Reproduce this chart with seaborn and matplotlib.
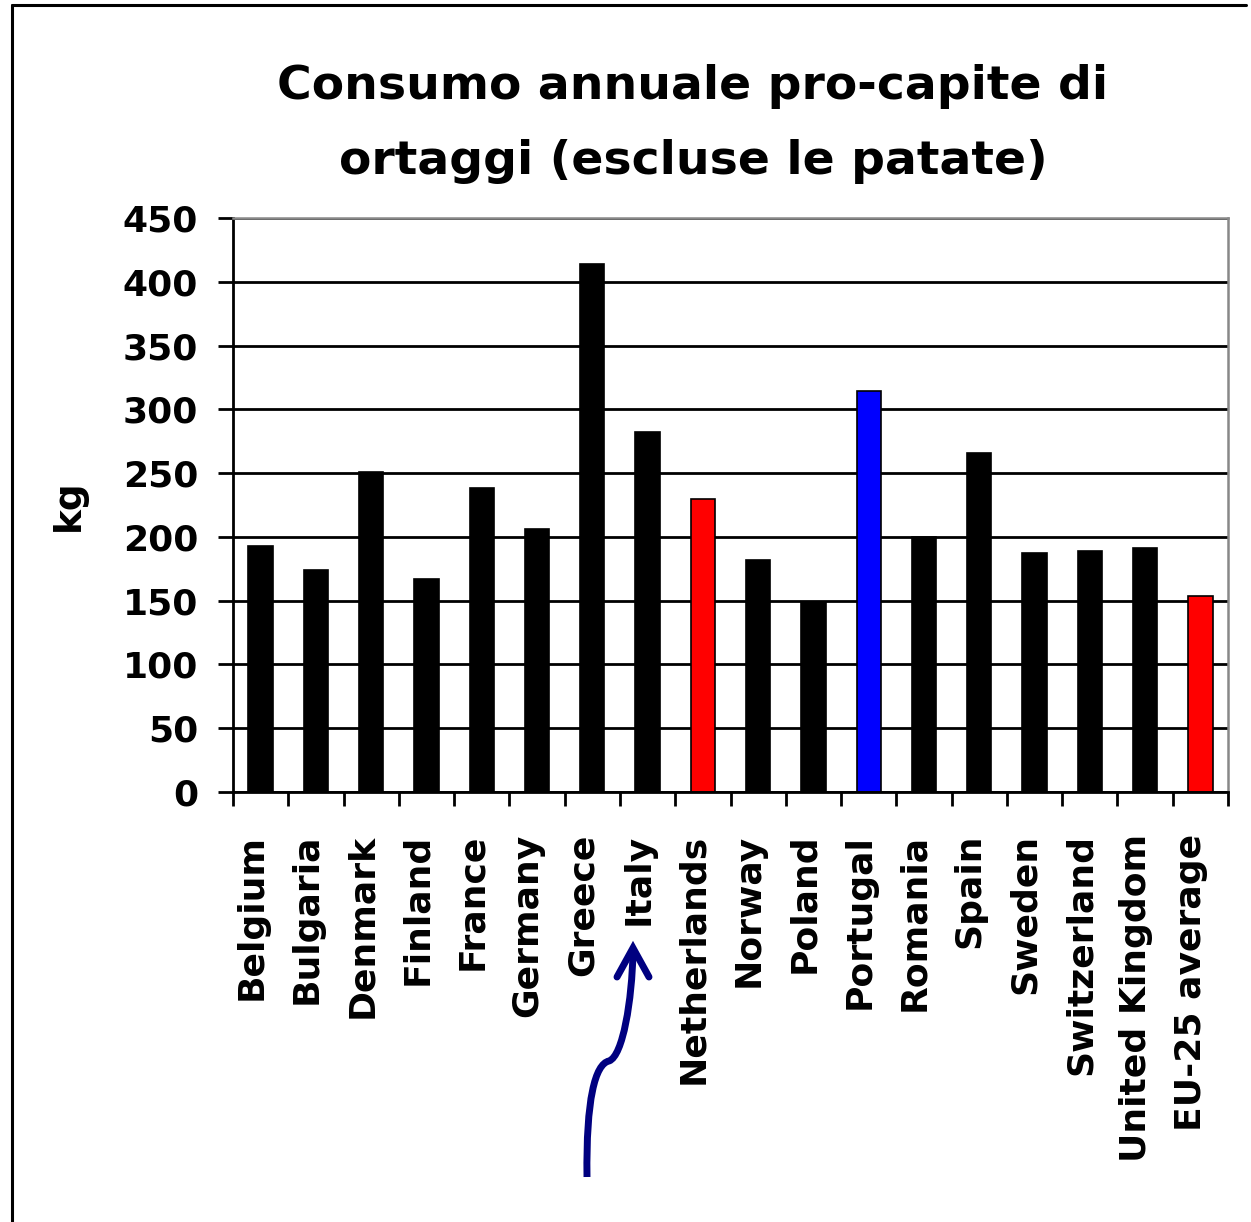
import numpy as np
import pandas as pd
import matplotlib
matplotlib.use("Agg")
import matplotlib.pyplot as plt
import seaborn as sns
from matplotlib.lines import Line2D
from matplotlib.path import Path
from matplotlib.patches import PathPatch

# dati (kg pro-capite)
paesi = ["Belgium", "Bulgaria", "Denmark", "Finland", "France", "Germany",
         "Greece", "Italy", "Netherlands", "Norway", "Poland", "Portugal",
         "Romania", "Spain", "Sweden", "Switzerland", "United Kingdom",
         "EU-25 average"]
consumo = [193, 174, 251, 167, 238, 206, 414, 282, 230, 182, 149, 314,
           200, 266, 187, 189, 191, 154]
colori = ["black"] * 8 + ["#ff0000"] + ["black"] * 2 + ["#0000ff"] + ["black"] * 5 + ["#ff0000"]
y_ticks = [0, 50, 100, 150, 200, 250, 300, 350, 400, 450]

W, H = 1251, 1222
sns.set_style("white")
plt.rcParams["font.family"] = ["DejaVu Sans"]
plt.rcParams["font.weight"] = "bold"
for k in ["text.color", "axes.labelcolor", "xtick.color", "ytick.color"]:
    plt.rcParams[k] = "black"

df = pd.DataFrame({"paese": paesi, "kg": consumo})

fig = plt.figure(figsize=(W / 100, H / 100), dpi=100)
ax = fig.add_axes([233 / W, 1 - 792 / H, (1228 - 233) / W, (792 - 218) / H])

sns.barplot(data=df, x="paese", y="kg", hue="paese", palette=colori,
            legend=False, width=0.44, edgecolor="black", linewidth=1.2,
            saturation=1, ax=ax)

ax.set_ylim(0, 450)
ax.set_xlim(-0.5, len(paesi) - 0.5)
ax.set_yticks(y_ticks)
ax.set_yticklabels([str(v) for v in y_ticks], fontsize=26, fontweight="bold")
# tacche ai confini delle categorie, etichette leggermente a sinistra come nell'originale
ax.set_xticks(np.arange(len(paesi) + 1) - 0.5, minor=False)
ax.set_xticklabels([])
ax.set_xticks(np.arange(len(paesi)) - 0.17, minor=True)
ax.set_xticklabels(paesi, minor=True, rotation=90, fontsize=26,
                   fontweight="bold", va="top")
ax.tick_params(axis="x", which="major", direction="out", length=10, width=2,
               color="black", bottom=True)
ax.tick_params(axis="x", which="minor", length=0, pad=30)
ax.tick_params(axis="y", direction="out", length=11, width=2, color="black",
               left=True, pad=14)

ax.yaxis.grid(True, color="black", linewidth=2)
ax.set_axisbelow(True)
for s in ["left", "bottom"]:
    ax.spines[s].set_color("black")
    ax.spines[s].set_linewidth(2)
for s in ["top", "right"]:
    ax.spines[s].set_visible(True)
    ax.spines[s].set_color("#888888")
    ax.spines[s].set_linewidth(1.8)

ax.set_xlabel("")
ax.set_ylabel("kg", fontsize=27, fontweight="bold")
ax.yaxis.set_label_coords(-0.147, 0.5)

fig.text(693 / W, 1 - 64 / H, "Consumo annuale pro-capite di\nortaggi (escluse le patate)",
         ha="center", va="top", fontsize=34, fontweight="bold", linespacing=1.85)


def px(x, y):
    return (x / W, 1 - y / H)


# cornice esterna
fig.add_artist(Line2D([12 / W, 12 / W], [0, 1 - 5 / H], color="black", lw=2.2,
                      transform=fig.transFigure))
fig.add_artist(Line2D([12 / W, 1246 / W], [1 - 5 / H, 1 - 5 / H], color="black",
                      lw=2.2, transform=fig.transFigure))

# freccia verso Italy
verts = [px(587, 1177), px(586, 1100), px(595, 1064), px(609, 1061),
         px(623, 1056), px(632, 1000), px(633, 952)]
codes = [Path.MOVETO, Path.CURVE4, Path.CURVE4, Path.CURVE4,
         Path.CURVE4, Path.CURVE4, Path.CURVE4]
fig.add_artist(PathPatch(Path(verts, codes), facecolor="none", edgecolor="#000080",
                         lw=5, transform=fig.transFigure, capstyle="butt"))
head = [px(617, 977), px(633, 948), px(649, 977)]
fig.add_artist(Line2D([p[0] for p in head], [p[1] for p in head], color="#000080",
                      lw=5, solid_capstyle="round", solid_joinstyle="miter",
                      transform=fig.transFigure))

fig.savefig("out.png", dpi=100)
